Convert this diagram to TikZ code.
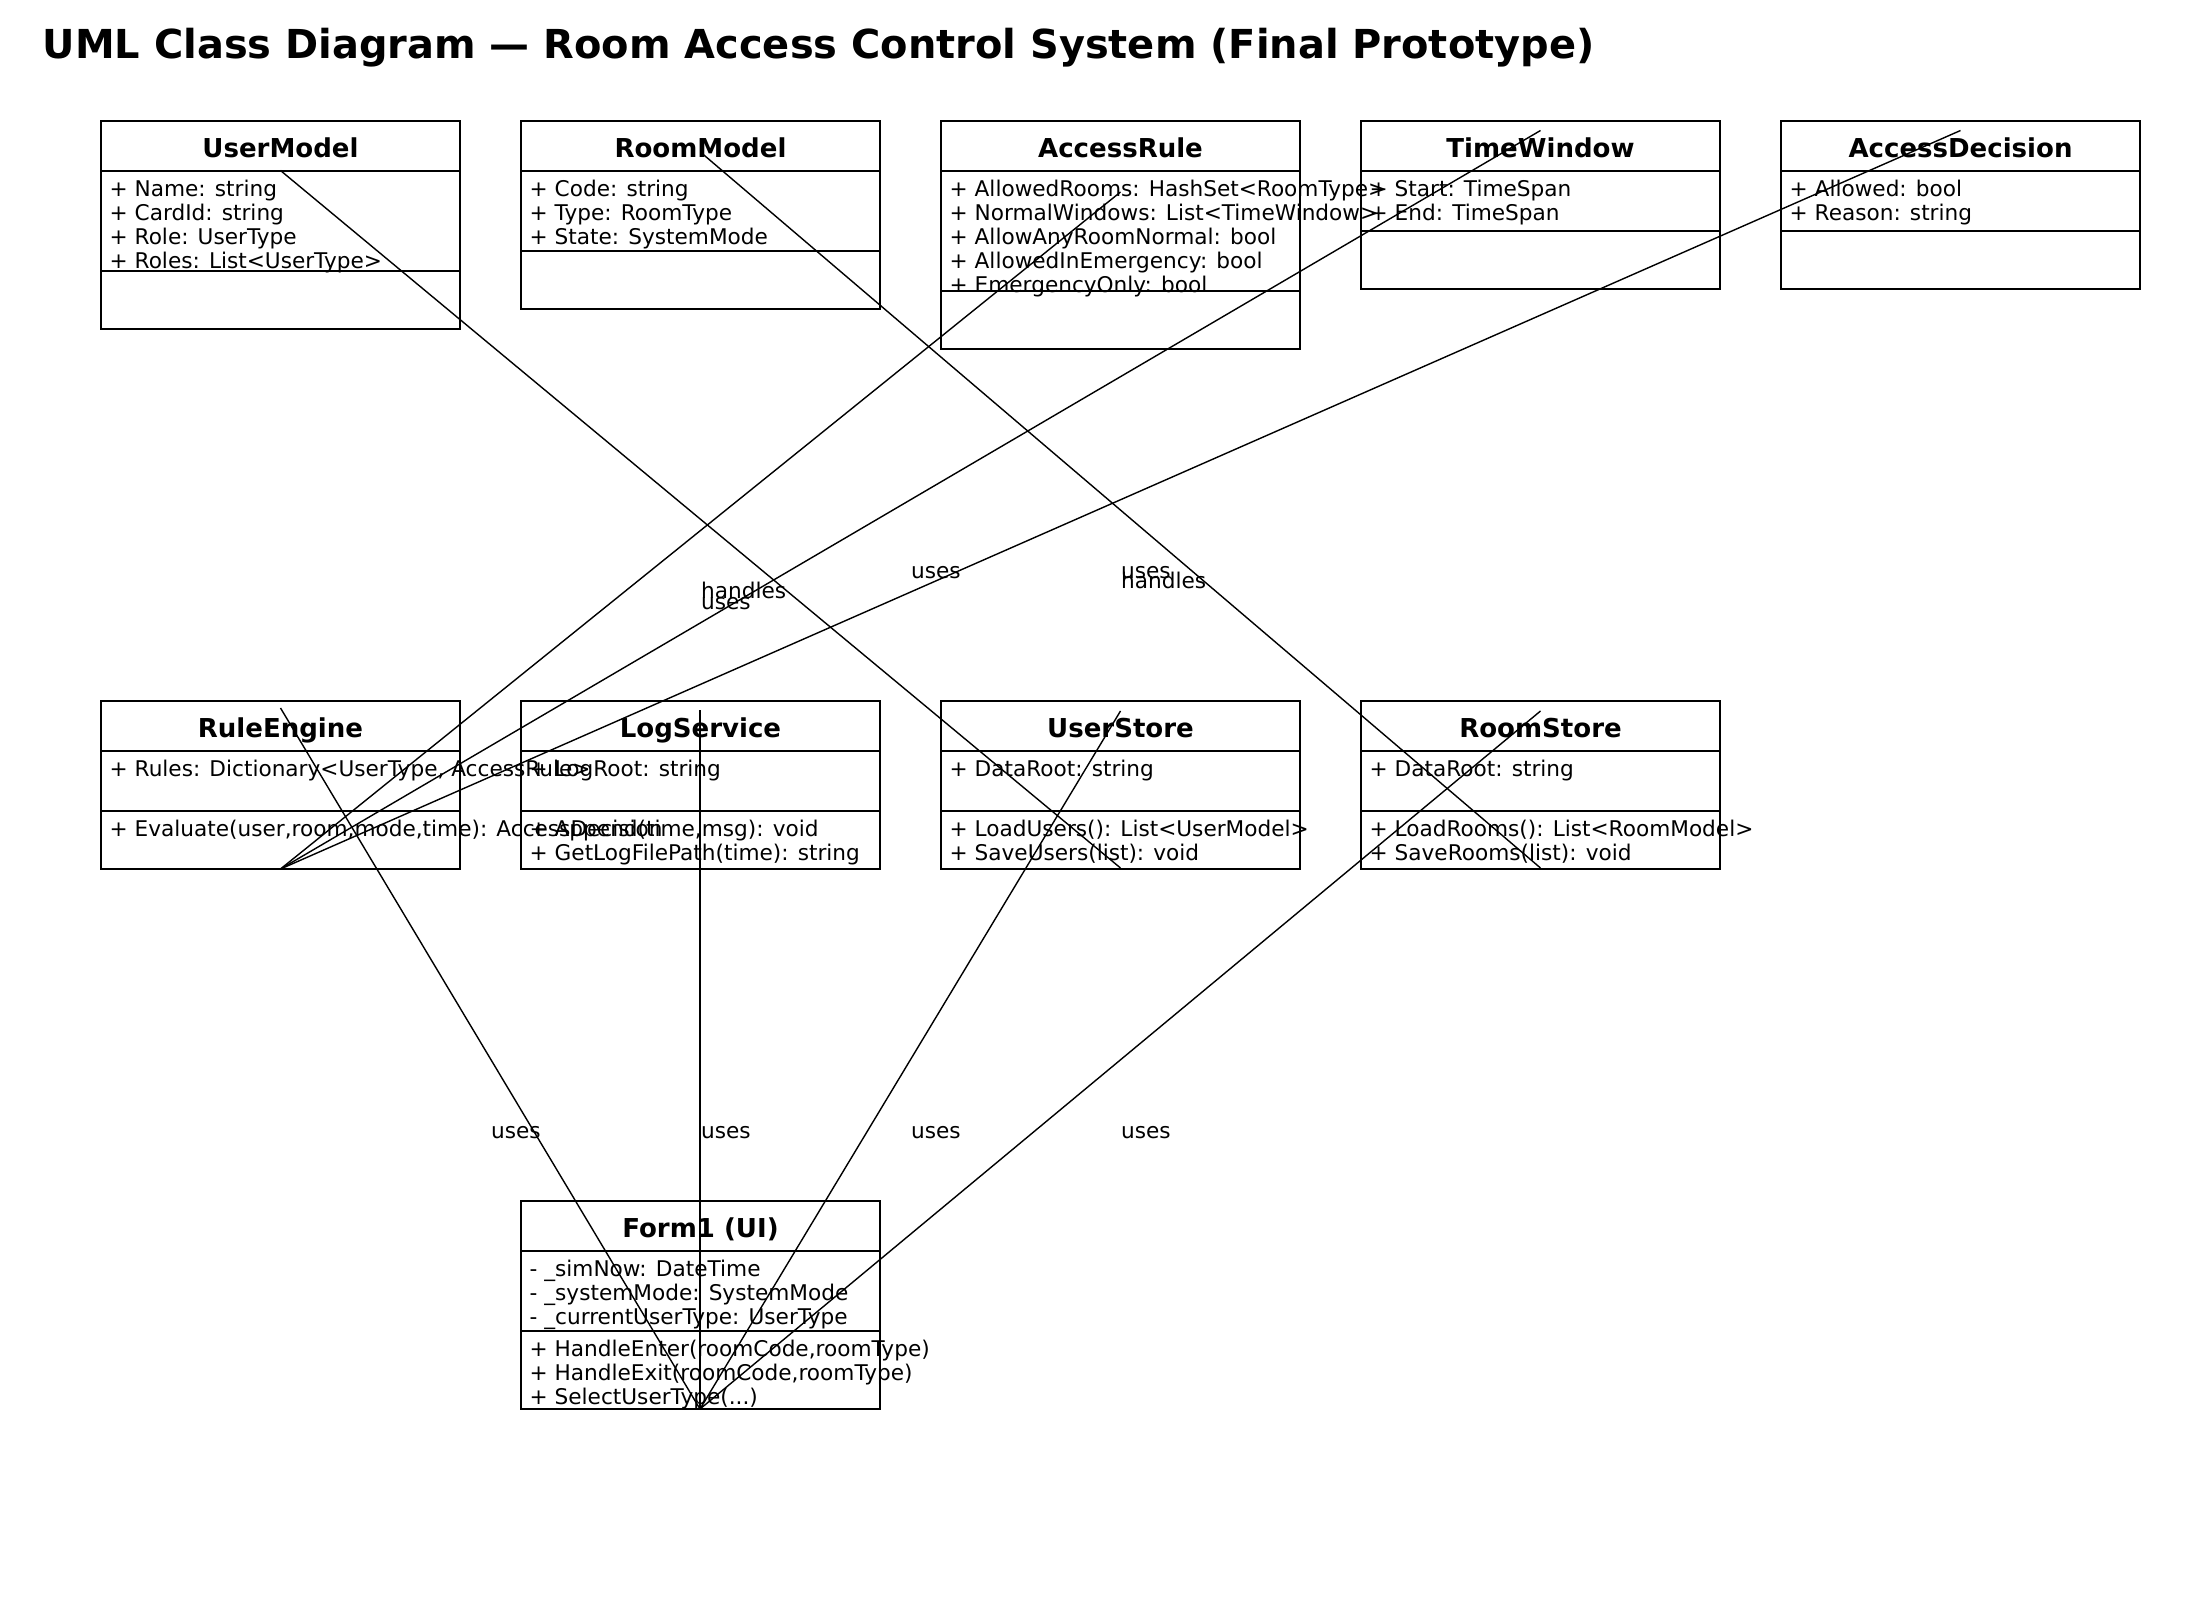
\documentclass[tikz,border=0pt]{standalone}
\usepackage{fontspec}
\setmainfont{DejaVu Sans}

\begin{document}
\begin{tikzpicture}[x=0.01cm, y=-0.01cm,
    box/.style={line width=0.75pt},
    link/.style={line width=0.4pt},
    cname/.style={inner sep=0, yshift=-0.85pt, text height=5.4pt, text depth=1.5pt, font=\bfseries\fontsize{7.4}{8}\selectfont},
    member/.style={anchor=west, inner sep=0, yshift=-0.4pt, text height=4.6pt, text depth=1.3pt, font=\fontsize{6.15}{7}\selectfont},
    lbl/.style={anchor=west, inner sep=0, text height=4.6pt, text depth=1.3pt, font=\fontsize{6.15}{7}\selectfont}]
\useasboundingbox (0,0) rectangle (2200,1600);
\node[anchor=west, inner sep=0, font=\bfseries\fontsize{11.35}{13}\selectfont] (title) at (42,48)
    {UML Class Diagram — Room Access Control System (Final Prototype)};

% top row
\draw[box] (101,121) rectangle (460,329);
\draw[box] (101,171) -- (460,171);
\draw[box] (101,271) -- (460,271);
\node[cname] (usermodel) at (280.5,148) {UserModel};
\node[member] (um1) at (109,189) {+ Name: string};
\node[member] (um2) at (109,213) {+ CardId: string};
\node[member] (um3) at (109,237) {+ Role: UserType};
\node[member] (um4) at (109,261) {+ Roles: List<UserType>};

\draw[box] (521,121) rectangle (880,309);
\draw[box] (521,171) -- (880,171);
\draw[box] (521,251) -- (880,251);
\node[cname] (roommodel) at (700.5,148) {RoomModel};
\node[member] (rm1) at (529,189) {+ Code: string};
\node[member] (rm2) at (529,213) {+ Type: RoomType};
\node[member] (rm3) at (529,237) {+ State: SystemMode};

\draw[box] (941,121) rectangle (1300,349);
\draw[box] (941,171) -- (1300,171);
\draw[box] (941,291) -- (1300,291);
\node[cname] (accessrule) at (1120.5,148) {AccessRule};
\node[member] (ar1) at (949,189) {+ AllowedRooms: HashSet<RoomType>};
\node[member] (ar2) at (949,213) {+ NormalWindows: List<TimeWindow>};
\node[member] (ar3) at (949,237) {+ AllowAnyRoomNormal: bool};
\node[member] (ar4) at (949,261) {+ AllowedInEmergency: bool};
\node[member] (ar5) at (949,285) {+ EmergencyOnly: bool};

\draw[box] (1361,121) rectangle (1720,289);
\draw[box] (1361,171) -- (1720,171);
\draw[box] (1361,231) -- (1720,231);
\node[cname] (timewindow) at (1540.5,148) {TimeWindow};
\node[member] (tw1) at (1369,189) {+ Start: TimeSpan};
\node[member] (tw2) at (1369,213) {+ End: TimeSpan};

\draw[box] (1781,121) rectangle (2140,289);
\draw[box] (1781,171) -- (2140,171);
\draw[box] (1781,231) -- (2140,231);
\node[cname] (accessdecision) at (1960.5,148) {AccessDecision};
\node[member] (ad1) at (1789,189) {+ Allowed: bool};
\node[member] (ad2) at (1789,213) {+ Reason: string};

% middle row
\draw[box] (101,701) rectangle (460,869);
\draw[box] (101,751) -- (460,751);
\draw[box] (101,811) -- (460,811);
\node[cname] (ruleengine) at (280.5,728) {RuleEngine};
\node[member] (re1) at (109,769) {+ Rules: Dictionary<UserType, AccessRule>};
\node[member] (re2) at (109,829) {+ Evaluate(user,room,mode,time): AccessDecision};

\draw[box] (521,701) rectangle (880,869);
\draw[box] (521,751) -- (880,751);
\draw[box] (521,811) -- (880,811);
\node[cname] (logservice) at (700.5,728) {LogService};
\node[member] (ls1) at (529,769) {+ LogRoot: string};
\node[member] (ls2) at (529,829) {+ Append(time,msg): void};
\node[member] (ls3) at (529,853) {+ GetLogFilePath(time): string};

\draw[box] (941,701) rectangle (1300,869);
\draw[box] (941,751) -- (1300,751);
\draw[box] (941,811) -- (1300,811);
\node[cname] (userstore) at (1120.5,728) {UserStore};
\node[member] (us1) at (949,769) {+ DataRoot: string};
\node[member] (us2) at (949,829) {+ LoadUsers(): List<UserModel>};
\node[member] (us3) at (949,853) {+ SaveUsers(list): void};

\draw[box] (1361,701) rectangle (1720,869);
\draw[box] (1361,751) -- (1720,751);
\draw[box] (1361,811) -- (1720,811);
\node[cname] (roomstore) at (1540.5,728) {RoomStore};
\node[member] (rs1) at (1369,769) {+ DataRoot: string};
\node[member] (rs2) at (1369,829) {+ LoadRooms(): List<RoomModel>};
\node[member] (rs3) at (1369,853) {+ SaveRooms(list): void};

% bottom
\draw[box] (521,1201) rectangle (880,1409);
\draw[box] (521,1251) -- (880,1251);
\draw[box] (521,1331) -- (880,1331);
\node[cname] (form) at (700.5,1228) {Form1 (UI)};
\node[member] (f1) at (529,1269) {- \_simNow: DateTime};
\node[member] (f2) at (529,1293) {- \_systemMode: SystemMode};
\node[member] (f3) at (529,1317) {- \_currentUserType: UserType};
\node[member] (f4) at (529,1349) {+ HandleEnter(roomCode,roomType)};
\node[member] (f5) at (529,1373) {+ HandleExit(roomCode,roomType)};
\node[member] (f6) at (529,1397) {+ SelectUserType(...)};

% connector ends
\coordinate (um-end) at (280.5,170.5);
\coordinate (rm-end) at (701.5,153);
\coordinate (ar-end) at (1120.5,192);
\coordinate (tw-end) at (1540.5,130.5);
\coordinate (ad-end) at (1960.5,130.5);
\coordinate (re-top) at (280.5,708);
\coordinate (re-bot) at (280.5,869);
\coordinate (ls-top) at (700,710);
\coordinate (us-top) at (1120.5,711);
\coordinate (us-bot) at (1120.5,868);
\coordinate (rs-top) at (1540.5,711);
\coordinate (rs-bot) at (1540.5,868);
\coordinate (form-bot) at (700,1409);

\draw[link] (um-end) -- (us-bot);
\draw[link] (rm-end) -- (rs-bot);
\draw[link] (re-bot) -- (ar-end);
\draw[link] (re-bot) -- (tw-end);
\draw[link] (re-bot) -- (ad-end);
\draw[link] (form-bot) -- (re-top);
\draw[link] (form-bot) -- (ls-top);
\draw[link] (form-bot) -- (us-top);
\draw[link] (form-bot) -- (rs-top);

\node[lbl] (l-um) at (700.5,593) {handles};
\node[lbl] (l-ar) at (700.5,604) {uses};
\node[lbl] (l-tw) at (910.5,573) {uses};
\node[lbl] (l-ad) at (1120.5,573) {uses};
\node[lbl] (l-rm) at (1120.5,583) {handles};
\node[lbl] (l-re) at (490.5,1133) {uses};
\node[lbl] (l-ls) at (700.5,1133) {uses};
\node[lbl] (l-us) at (910.5,1133) {uses};
\node[lbl] (l-rs) at (1120.5,1133) {uses};
\end{tikzpicture}
\end{document}
